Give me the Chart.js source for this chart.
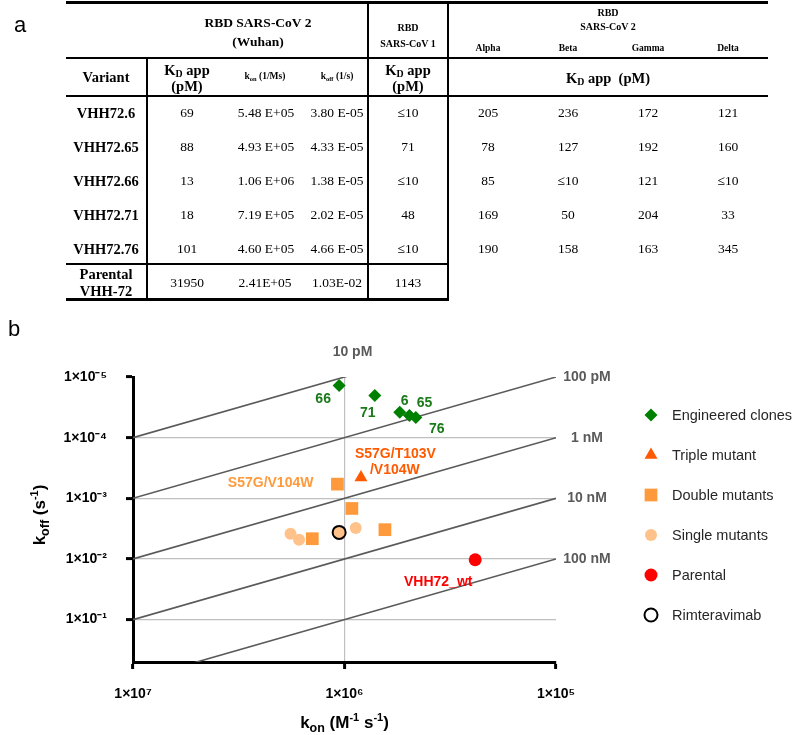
<!DOCTYPE html>
<html><head><meta charset="utf-8">
<script src="https://cdn.jsdelivr.net/npm/chart.js@4.4.1/dist/chart.umd.min.js"></script>
<style>
html,body{margin:0;padding:0;background:#fff;}
#wrap{position:relative;width:800px;height:735px;overflow:hidden;background:#fff;}
#c{position:absolute;left:0;top:0;}
.t{position:absolute;transform:translate(-50%,-50%);white-space:nowrap;font-family:'Liberation Serif','Times New Roman',serif;color:#000;line-height:1;}
.b{font-weight:bold;}
.ln{position:absolute;background:#000;}
.pl{position:absolute;font-family:'Liberation Sans',Arial,sans-serif;font-size:22px;line-height:1;}
sub.s{font-size:0.68em;vertical-align:-0.22em;line-height:0;}
</style></head><body>
<div id="wrap"><canvas id="c" width="800" height="735"></canvas><div id="tbl"></div></div>
<script>
// ---------- Panel a: table data ----------
const variants = ['VHH72.6','VHH72.65','VHH72.66','VHH72.71','VHH72.76'];
const kdWuhan = ['69','88','13','18','101'];
const konWuhan = ['5.48 E+05','4.93 E+05','1.06 E+06','7.19 E+05','4.60 E+05'];
const koffWuhan = ['3.80 E-05','4.33 E-05','1.38 E-05','2.02 E-05','4.66 E-05'];
const kdCov1 = ['≤10','71','≤10','48','≤10'];
const kdAlpha = ['205','78','85','169','190'];
const kdBeta = ['236','127','≤10','50','158'];
const kdGamma = ['172','192','121','204','163'];
const kdDelta = ['121','160','≤10','33','345'];
const variantNames = ['Alpha','Beta','Gamma','Delta'];
const parentalRow = ['31950','2.41E+05','1.03E-02','1143'];

// ---------- Panel b: chart data ----------
const konTicks = [1e7, 1e6, 1e5];
const koffTicks = [1e-5, 1e-4, 1e-3, 1e-2, 1e-1];
const kdValues = [1e-11, 1e-10, 1e-9, 1e-8, 1e-7];
const kdLabels = ['10 pM', '100 pM', '1 nM', '10 nM', '100 nM'];

const engNames = ['66', '71', '6', '65', '76'];
const engKon = [1.06e6, 7.19e5, 5.48e5, 4.93e5, 4.60e5];
const engKoff = [1.38e-5, 2.02e-5, 3.80e-5, 4.33e-5, 4.66e-5];
const tripleKon = [8.36e5];
const tripleKoff = [4.54e-4];
const doubleKon = [1.08e6, 9.23e5, 6.44e5, 1.42e6];
const doubleKoff = [5.84e-4, 1.47e-3, 3.29e-3, 4.64e-3];
const singleKon = [8.85e5, 1.80e6, 1.64e6, 1.06e6];
const singleKoff = [3.09e-3, 3.83e-3, 4.83e-3, 3.65e-3];
const parentalKon = [2.41e5];
const parentalKoff = [1.03e-2];
const rimKon = [1.06e6];
const rimKoff = [3.65e-3];

// ---------- build table ----------
const tbl = document.getElementById('tbl');
function txt(html, x, y, size, bold){
  const d = document.createElement('div');
  d.className = 't' + (bold ? ' b' : '');
  d.style.left = x + 'px'; d.style.top = y + 'px'; d.style.fontSize = size + 'px';
  d.innerHTML = html; tbl.appendChild(d);
}
function hline(x1, x2, y, w){
  const d = document.createElement('div'); d.className = 'ln';
  d.style.left = x1 + 'px'; d.style.top = (y - w/2) + 'px'; d.style.width = (x2 - x1) + 'px'; d.style.height = w + 'px';
  tbl.appendChild(d);
}
function vline(x, y1, y2, w){
  const d = document.createElement('div'); d.className = 'ln';
  d.style.left = (x - w/2) + 'px'; d.style.top = y1 + 'px'; d.style.width = w + 'px'; d.style.height = (y2 - y1) + 'px';
  tbl.appendChild(d);
}
hline(66, 768, 2, 3); hline(66, 768, 58, 2.5); hline(66, 768, 96, 2.5);
hline(66, 449, 264, 2.5); hline(66, 449, 299, 3);
vline(147, 57, 300, 2.5); vline(368, 1, 300, 2.5); vline(448, 1, 300, 2.5);

const KD = 'K<sub class="s">D</sub> app';
txt('RBD SARS-CoV 2', 258, 23, 13.5, true); txt('(Wuhan)', 258, 42, 13.5, true);
txt('RBD', 408, 28, 10, true); txt('SARS-CoV 1', 408, 44, 10, true);
txt('RBD', 608, 13, 10, true); txt('SARS-CoV 2', 608, 27, 10, true);
const varX = [488, 568, 648, 728];
variantNames.forEach((n, i) => txt(n, varX[i], 49, 9.5, true));
txt('Variant', 106, 77, 14.5, true);
txt(KD, 187, 70, 14.5, true); txt('(pM)', 187, 86, 14.5, true);
txt('k<sub class="s">on</sub> (1/Ms)', 265, 77, 9.5, true);
txt('k<sub class="s">off</sub> (1/s)', 337, 77, 9.5, true);
txt(KD, 408, 70, 14.5, true); txt('(pM)', 408, 86, 14.5, true);
txt(KD + '&nbsp; (pM)', 608, 78, 14.5, true);
const rowY = [113, 147, 181, 215, 249];
variants.forEach((v, i) => {
  const y = rowY[i];
  txt(v, 106, y, 14.5, true);
  txt(kdWuhan[i], 187, y, 13.5); txt(konWuhan[i], 266, y, 13.5); txt(koffWuhan[i], 337, y, 13.5);
  txt(kdCov1[i], 408, y, 13.5);
  [kdAlpha, kdBeta, kdGamma, kdDelta].forEach((arr, k) => txt(arr[i], varX[k], y, 13.5));
});
txt('Parental', 106, 274, 14.5, true); txt('VHH-72', 106, 291, 14.5, true);
[187, 265, 337, 408].forEach((x, k) => txt(parentalRow[k], x, 283, 13.5));

// panel letters
[['a', 20, 14], ['b', 14, 318]].forEach(([s, x, y]) => {
  const d = document.createElement('div'); d.className = 'pl'; d.textContent = s;
  d.style.left = (x - 6) + 'px'; d.style.top = y + 'px'; tbl.appendChild(d);
});

// ---------- chart ----------
const SANS = '"Liberation Sans", Arial, sans-serif';
const pts = (xs, ys) => xs.map((x, i) => ({x: x, y: ys[i]}));
const supMap = {'-': '⁻', '0': '⁰', '1': '¹', '2': '²', '3': '³', '4': '⁴', '5': '⁵', '6': '⁶', '7': '⁷', '8': '⁸', '9': '⁹'};
const sup = s => String(s).split('').map(c => supMap[c] || c).join('');
const expLabel = v => '1×10' + sup(Math.round(Math.log10(v)));

const scatterSets = [
  {label: 'Engineered clones', data: pts(engKon, engKoff), pointStyle: 'rectRot', pointRadius: 6.5,
   pointBackgroundColor: '#008000', pointBorderColor: '#008000', pointBorderWidth: 0},
  {label: 'Triple mutant', data: pts(tripleKon, tripleKoff), pointStyle: 'triangle', pointRadius: 7.5,
   pointBackgroundColor: '#ff5a00', pointBorderColor: '#ff5a00', pointBorderWidth: 0},
  {label: 'Double mutants', data: pts(doubleKon, doubleKoff), pointStyle: 'rect', pointRadius: 9,
   pointBackgroundColor: '#ff9a3c', pointBorderColor: '#ff9a3c', pointBorderWidth: 0},
  {label: 'Rimteravimab', data: pts(rimKon, rimKoff), pointStyle: 'circle', pointRadius: 6.5,
   pointBackgroundColor: 'rgba(0,0,0,0)', pointBorderColor: '#000', pointBorderWidth: 2},
  {label: 'Single mutants', data: pts(singleKon, singleKoff), pointStyle: 'circle', pointRadius: 6,
   pointBackgroundColor: '#ffc28a', pointBorderColor: '#ffc28a', pointBorderWidth: 0},
  {label: 'Parental', data: pts(parentalKon, parentalKoff), pointStyle: 'circle', pointRadius: 6.5,
   pointBackgroundColor: '#ff0000', pointBorderColor: '#ff0000', pointBorderWidth: 0}
];
const kdSets = kdValues.map((kd, i) => ({
  label: kdLabels[i], data: [{x: konTicks[0], y: kd * konTicks[0]}, {x: konTicks[2], y: kd * konTicks[2]}],
  showLine: true, pointRadius: 0, borderColor: '#5a5a5a', borderWidth: 1.6, fill: false
}));

const legendOrder = ['Engineered clones', 'Triple mutant', 'Double mutants', 'Single mutants', 'Parental', 'Rimteravimab'];

const annot = {
  id: 'annot',
  afterDatasetsDraw(chart) {
    const c = chart.ctx, xs = chart.scales.x, ys = chart.scales.y, ca = chart.chartArea;
    c.save();
    // KD iso-lines labels
    c.font = 'bold 14px ' + SANS; c.fillStyle = '#5a5a5a'; c.textAlign = 'center'; c.textBaseline = 'middle';
    kdValues.forEach((kd, i) => {
      if (i === 0) {
        c.fillText(kdLabels[i], xs.getPixelForValue(koffTicks[0] / kd) + 8, ca.top - 25);
      } else {
        c.fillText(kdLabels[i], ca.right + 31, ys.getPixelForValue(kd * konTicks[2]));
      }
    });
    // engineered clone numbers
    const engOff = [[-16, 14], [-7, 18], [5, -11], [15, -12], [21, 12]];
    const m0 = chart.getDatasetMeta(0);
    c.fillStyle = '#1a7a1a';
    engNames.forEach((n, i) => {
      const p = m0.data[i];
      c.fillText(n, p.x + engOff[i][0], p.y + engOff[i][1]);
    });
    // mutant labels
    const md = chart.getDatasetMeta(2).data[0];
    c.fillStyle = '#ff9a3c'; c.textAlign = 'right';
    c.fillText('S57G/V104W', md.x - 24, md.y - 1);
    const mt = chart.getDatasetMeta(1).data[0];
    c.fillStyle = '#ff5a00'; c.textAlign = 'left';
    c.fillText('S57G/T103V', mt.x - 6, mt.y - 23);
    c.fillText('/V104W', mt.x + 9, mt.y - 7);
    const mp = chart.getDatasetMeta(5).data[0];
    c.fillStyle = '#ff0000'; c.textAlign = 'center';
    c.fillText('VHH72_wt', mp.x - 37, mp.y + 22);

    // legend
    c.textAlign = 'left'; c.textBaseline = 'middle';
    legendOrder.forEach((name, i) => {
      const ds = chart.data.datasets.find(d => d.label === name);
      const y = 415 + 40 * i;
      c.fillStyle = ds.pointBackgroundColor === 'rgba(0,0,0,0)' ? '#fff' : ds.pointBackgroundColor;
      c.strokeStyle = ds.pointBorderColor; c.lineWidth = ds.pointBorderWidth;
      Chart.helpers.drawPoint(c, {pointStyle: ds.pointStyle, radius: ds.pointRadius, rotation: 0, borderWidth: ds.pointBorderWidth}, 651, y);
      c.font = '14.5px ' + SANS; c.fillStyle = '#262626';
      c.fillText(name, 672, y + 1);
    });

    // axis titles
    const rich = (parts, cx, base) => {
      let w = 0;
      parts.forEach(p => { c.font = 'bold ' + p.s + 'px ' + SANS; p.w = c.measureText(p.t).width; w += p.w; });
      let x = cx - w / 2;
      c.textAlign = 'left'; c.textBaseline = 'alphabetic'; c.fillStyle = '#000';
      parts.forEach(p => { c.font = 'bold ' + p.s + 'px ' + SANS; c.fillText(p.t, x, base + (p.dy || 0)); x += p.w; });
    };
    rich([{t: 'k', s: 17}, {t: 'on', s: 12.5, dy: 4}, {t: ' (M', s: 17}, {t: '-1', s: 11, dy: -7}, {t: ' s', s: 17}, {t: '-1', s: 11, dy: -7}, {t: ')', s: 17}],
         (ca.left + ca.right) / 2 - 0, 728);
    c.save();
    c.translate(45, 515); c.rotate(-Math.PI / 2);
    rich([{t: 'k', s: 17}, {t: 'off', s: 12.5, dy: 4}, {t: ' (s', s: 17}, {t: '-1', s: 11, dy: -7}, {t: ')', s: 17}], 0, 0);
    c.restore();
    c.restore();
  }
};

new Chart(document.getElementById('c'), {
  type: 'scatter',
  data: {datasets: scatterSets.concat(kdSets)},
  options: {
    responsive: false, animation: false, events: [],
    layout: {padding: {left: 0, top: 377, right: 244, bottom: 0}},
    plugins: {legend: {display: false}, tooltip: {enabled: false}},
    scales: {
      x: {
        type: 'logarithmic', reverse: true, min: konTicks[2], max: konTicks[0],
        afterBuildTicks: s => { s.ticks = konTicks.map(v => ({value: v})); },
        afterFit: s => { s.height = 735 - 662 ; },
        ticks: {callback: v => expLabel(v), color: '#000', font: {family: SANS, size: 14, weight: 'bold'}, padding: 17, maxRotation: 0, autoSkip: false},
        grid: {color: c => (c.tick && c.tick.value === 1e6) ? '#c0c0c0' : 'rgba(0,0,0,0)', lineWidth: 1.2, tickColor: '#000', tickLength: 7, tickWidth: 3},
        border: {color: '#000', width: 3}
      },
      y: {
        type: 'logarithmic', reverse: true, min: koffTicks[0], max: 0.5,
        afterBuildTicks: s => { s.ticks = koffTicks.map(v => ({value: v})); },
        afterFit: s => { s.width = 133; },
        ticks: {callback: v => expLabel(v), color: '#000', font: {family: SANS, size: 14, weight: 'bold'}, padding: 19, autoSkip: false},
        grid: {color: c => (c.tick && c.tick.value !== 1e-5) ? '#c0c0c0' : 'rgba(0,0,0,0)', lineWidth: 1.2, tickColor: '#000', tickLength: 7, tickWidth: 3},
        border: {color: '#000', width: 3}
      }
    }
  },
  plugins: [annot]
});
</script>
</body></html>
